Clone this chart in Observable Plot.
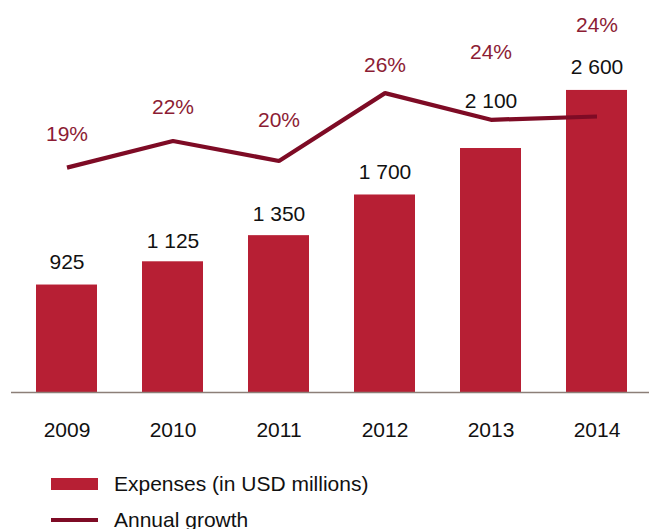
<!DOCTYPE html>
<html>
<head>
<meta charset="utf-8">
<script src="https://cdn.jsdelivr.net/npm/d3@7"></script>
<script src="https://cdn.jsdelivr.net/npm/@observablehq/plot@0.6"></script>
<style>
  html, body { margin: 0; padding: 0; background: #fff; }
  #wrap { position: relative; width: 649px; font-family: "Liberation Sans", Arial, Helvetica, sans-serif; }
  #chart { position: relative; width: 649px; height: 455px; }
  #legend { margin-top: 10.5px; font-size: 21px; color: #111; }
  .row { display: flex; align-items: center; height: 36px; line-height: 36px; padding-left: 51px; }
  .sw { width: 47px; margin-right: 16px; }
</style>
</head>
<body>
<div id="wrap">
  <div id="chart"></div>
  <div id="legend">
    <div class="row"><span class="sw" style="height:12px;background:#b71f34"></span><span>Expenses (in USD millions)</span></div>
    <div class="row"><span class="sw" style="height:4px;background:#7e0b25"></span><span>Annual growth</span></div>
  </div>
</div>
<script>
const years = ["2009", "2010", "2011", "2012", "2013", "2014"];
const expenses = [925, 1125, 1350, 1700, 2100, 2600];
const growth = [19.2, 21.6, 19.8, 25.9, 23.5, 23.8];
const growthLabels = ["19%", "22%", "20%", "26%", "24%", "24%"];

const bars = years.map((year, i) => ({year, value: expenses[i]}));
const pts = years.map((year, i) => ({year, growth: growth[i], label: growthLabels[i]}));

const fmt = d3.formatLocale({decimal: ".", thousands: " ", grouping: [3], currency: ["", ""]}).format(",d");

// label offsets (styling, px)
const barLabelDy = {"2009": -22.5, "2010": -21, "2011": -21.5, "2012": -22.5, "2013": -47.5, "2014": -23};
const pctLabelDy = {"2009": -33, "2010": -33.5, "2011": -40.5, "2012": -28, "2013": -67.5, "2014": -91};

const W = 649, H = 455;
const font = "Liberation Sans, Arial, Helvetica, sans-serif";
const xOpts = {type: "band", domain: years, range: [-10.2, 672.2], padding: 0.426, label: null};

const main = Plot.plot({
  width: W, height: H,
  marginLeft: 11, marginRight: 0, marginTop: 0, marginBottom: 63,
  style: {fontFamily: font, fontSize: "21px", color: "#111", overflow: "visible"},
  x: xOpts,
  y: {domain: [0, 3374], axis: null},
  marks: [
    Plot.barY(bars, {x: "year", y: "value", fill: "#b71f34"}),
    Plot.ruleY([0], {stroke: "#8c7f78", strokeWidth: 1.5}),
    Plot.axisX({tickSize: 0, tickPadding: 30, fontSize: 21, fill: "#111"}),
    ...years.map(yr => Plot.text(bars.filter(d => d.year === yr), {
      x: "year", y: "value", text: d => fmt(d.value), dy: barLabelDy[yr],
      fontSize: 21, fill: "#111"
    }))
  ]
});

const overlay = Plot.plot({
  width: W, height: H,
  marginLeft: 11, marginRight: 0, marginTop: 0, marginBottom: 63,
  style: {fontFamily: font, fontSize: "21px", position: "absolute", top: "0px", left: "0px", background: "transparent", overflow: "visible"},
  x: {...xOpts, axis: null},
  y: {domain: [-1.02, 34.23], axis: null},
  marks: [
    Plot.line(pts, {x: "year", y: "growth", stroke: "#7e0b25", strokeWidth: 4.2, strokeLinecap: "butt", strokeLinejoin: "miter"}),
    ...years.map(yr => Plot.text(pts.filter(d => d.year === yr), {
      x: "year", y: "growth", text: "label", dy: pctLabelDy[yr],
      fontSize: 21, fill: "#8c1c34"
    }))
  ]
});

const chart = document.getElementById("chart");
chart.appendChild(main);
chart.appendChild(overlay);
</script>
</body>
</html>
